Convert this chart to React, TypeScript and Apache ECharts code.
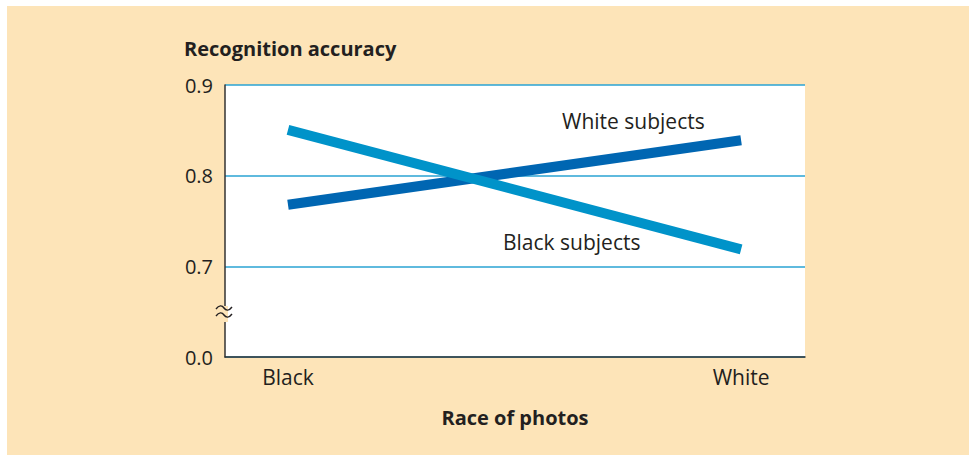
import React, { useEffect, useRef } from "react";
import * as echarts from "echarts";

const categories = ["Black", "White"];
const whiteSubjects = [0.768, 0.839];
const blackSubjects = [0.8505, 0.7187];
const yTicks = [0.6, 0.7, 0.8, 0.9];
const yTickLabels = ["0.0", "0.7", "0.8", "0.9"];

const FONT = "'Open Sans', 'Noto Sans', sans-serif";
const TEXT = "#231f20";

echarts.graphic.registerShape(
  "breakMark",
  echarts.graphic.extendPath(
    "M0,4 C3,0 6,0 8,3 C10,6 13,6 16,2 M0,11 C3,7 6,7 8,10 C10,13 13,13 16,9",
    {}
  )
);

export default function App() {
  const ref = useRef<HTMLDivElement>(null);
  useEffect(() => {
    document.body.style.margin = "0";
    const chart = echarts.init(ref.current!, undefined, { renderer: "svg" });
    chart.setOption({
      animation: false,
      backgroundColor: "#fff",
      grid: {
        left: 225,
        right: 164,
        top: 85,
        bottom: 98,
        show: true,
        backgroundColor: "#ffffff",
        borderWidth: 0,
      },
      graphic: [
        {
          type: "rect",
          z: -10,
          silent: true,
          shape: { x: 7, y: 6, width: 962, height: 449 },
          style: { fill: "#fde4b8" },
        },
        {
          type: "text",
          x: 184,
          y: 48,
          style: {
            text: "Recognition accuracy",
            font: `bold 20px ${FONT}`,
            fill: TEXT,
            verticalAlign: "middle",
          },
        },
        {
          type: "text",
          x: 562,
          y: 121,
          style: {
            text: "White subjects",
            font: `21px ${FONT}`,
            fill: TEXT,
            verticalAlign: "middle",
          },
          z: 100,
        },
        {
          type: "text",
          x: 503,
          y: 242,
          style: {
            text: "Black subjects",
            font: `21px ${FONT}`,
            fill: TEXT,
            verticalAlign: "middle",
          },
          z: 100,
        },
        {
          type: "rect",
          shape: { x: 223, y: 306, width: 5, height: 16 },
          style: { fill: "#fde4b8" },
          z: 100,
        },
        {
          type: "breakMark",
          x: 216,
          y: 305,
          style: { stroke: TEXT, fill: "none", lineWidth: 1.4 },
          z: 101,
        },
      ],
      xAxis: {
        type: "value",
        min: -0.139,
        max: 1.141,
        name: "Race of photos",
        nameLocation: "middle",
        nameGap: 50,
        nameTextStyle: { fontFamily: FONT, fontWeight: "bold", fontSize: 20, color: TEXT },
        axisLine: { show: true, onZero: false, lineStyle: { color: "#333", width: 1.5 } },
        axisTick: { show: false },
        splitLine: { show: false },
        axisLabel: {
          customValues: [0, 1],
          formatter: (v: number) => categories[Math.round(v)] ?? "",
          fontFamily: FONT,
          fontSize: 21,
          color: TEXT,
          margin: 9,
        },
      },
      yAxis: {
        type: "value",
        min: 0.6,
        max: 0.9,
        interval: 0.1,
        axisLine: { show: true, onZero: false, lineStyle: { color: "#333", width: 1.5 } },
        axisTick: { show: false },
        splitLine: { show: true, lineStyle: { color: "#2aa3d3", width: 1.5 } },
        axisLabel: {
          formatter: (v: number) => {
            const i = yTicks.findIndex((t) => Math.abs(t - v) < 1e-6);
            return i >= 0 ? yTickLabels[i] : "";
          },
          fontFamily: FONT,
          fontSize: 20,
          color: TEXT,
          margin: 12,
        },
      },
      series: [
        {
          name: "White subjects",
          type: "line",
          data: whiteSubjects.map((v, i) => [i, v]),
          symbol: "none",
          lineStyle: { color: "#0066b2", width: 10, cap: "butt" },
          z: 3,
        },
        {
          name: "Black subjects",
          type: "line",
          data: blackSubjects.map((v, i) => [i, v]),
          symbol: "none",
          lineStyle: { color: "#0093c9", width: 10, cap: "butt" },
          z: 4,
        },
      ],
    });
    return () => chart.dispose();
  }, []);
  return <div ref={ref} style={{ width: 969, height: 455 }} />;
}
